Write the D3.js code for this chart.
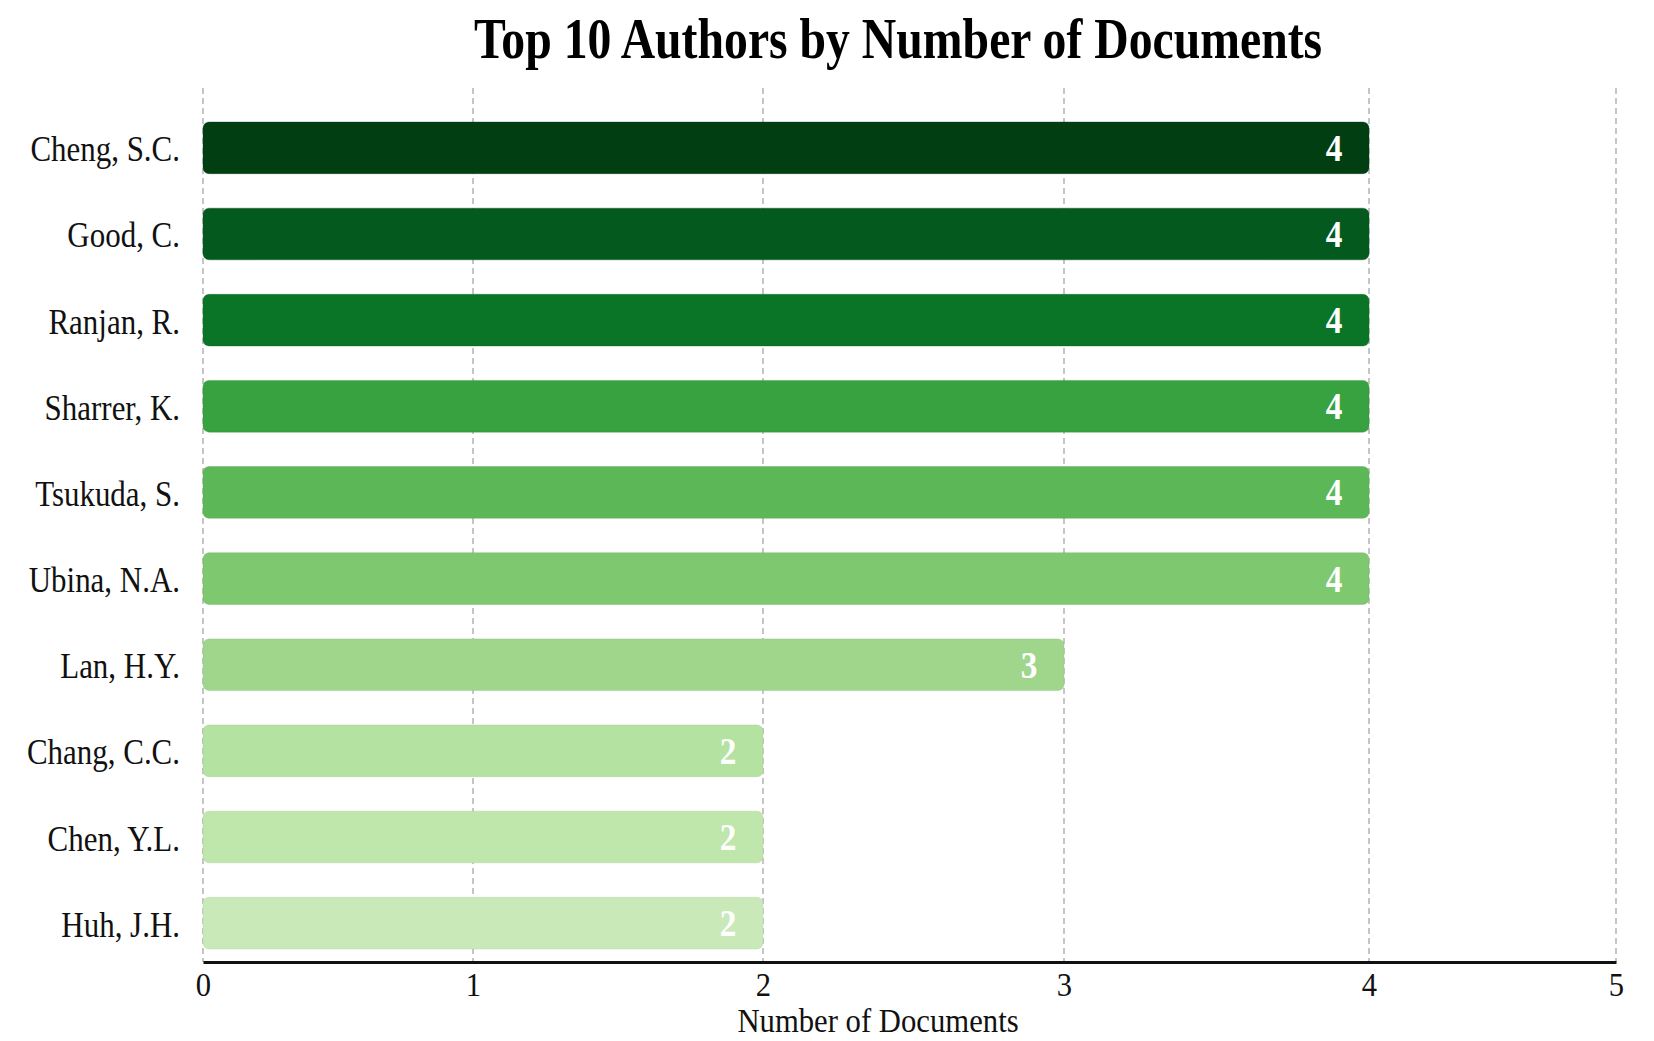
<!DOCTYPE html>
<html>
<head>
<meta charset="utf-8">
<script src="https://cdn.jsdelivr.net/npm/d3@7"></script>
<style>
  html, body { margin: 0; padding: 0; background: #fff; }
  svg { display: block; }
  text { font-family: "Liberation Serif", "Times New Roman", Times, serif; }
</style>
</head>
<body>
<div id="chart"></div>
<script>
// Top 10 authors
const authors = ['Cheng, S.C.', 'Good, C.', 'Ranjan, R.', 'Sharrer, K.', 'Tsukuda, S.',
  'Ubina, N.A.', 'Lan, H.Y.', 'Chang, C.C.', 'Chen, Y.L.', 'Huh, J.H.'];
const documents = [4, 4, 4, 4, 4, 4, 3, 2, 2, 2];
const barColors = ['#013f13', '#045a1e', '#0b7527', '#38a140', '#5cb856',
  '#7ec86f', '#9fd68b', '#b4e2a0', '#bfe6ab', '#c9eab8'];
const xTicks = [0, 1, 2, 3, 4, 5];

const width = 1654;
const height = 1041;
const axisY = 962;
const gridTop = 88;
const fontStretch = 0.86; // reference type is a little narrow

const svg = d3.select('#chart')
  .append('svg')
  .attr('width', width)
  .attr('height', height);

// the reference axis is not evenly spaced, so map each tick to where it sits
const x = d3.scaleLinear()
  .domain(xTicks)
  .range([203, 473, 763, 1064, 1369, 1616]);

const y = d3.scaleBand()
  .domain(authors)
  .range([122, 949])
  .paddingInner(0.4)
  .paddingOuter(0);

const rows = authors.map((name, i) => ({ name, value: documents[i], color: barColors[i] }));

// helper: narrow text drawn at (tx, ty)
function narrowText(parent, tx, ty, sx) {
  return parent.append('g')
    .attr('transform', `translate(${tx},${ty}) scale(${sx},1)`)
    .append('text');
}

// dashed vertical grid
svg.append('g')
  .selectAll('line')
  .data(xTicks)
  .enter()
  .append('line')
  .attr('x1', d => x(d))
  .attr('x2', d => x(d))
  .attr('y1', gridTop)
  .attr('y2', axisY)
  .attr('stroke', '#b3b3b3')
  .attr('stroke-width', 1.5)
  .attr('stroke-dasharray', '6,4');

// bars
svg.append('g')
  .selectAll('rect')
  .data(rows)
  .enter()
  .append('rect')
  .attr('x', x(0))
  .attr('y', d => y(d.name))
  .attr('width', d => x(d.value) - x(0))
  .attr('height', y.bandwidth())
  .attr('rx', 6)
  .attr('ry', 6)
  .attr('fill', d => d.color)
  .attr('stroke', d => d3.color(d.color).darker(0.4))
  .attr('stroke-opacity', 0.35)
  .attr('stroke-width', 1);

// value labels inside bar ends
const valueG = svg.append('g');
rows.forEach(d => {
  narrowText(valueG, x(d.value) - 35, y(d.name) + y.bandwidth() / 2 + 13, 0.9)
    .attr('text-anchor', 'middle')
    .attr('font-size', 37)
    .attr('font-weight', 'bold')
    .attr('fill', '#fff')
    .text(d.value);
});

// author labels
const labelG = svg.append('g');
rows.forEach(d => {
  narrowText(labelG, 180, y(d.name) + y.bandwidth() / 2 + 13.5, fontStretch)
    .attr('text-anchor', 'end')
    .attr('font-size', 36)
    .attr('fill', '#111')
    .text(d.name);
});

// x axis
const xAxis = d3.axisBottom(x)
  .tickValues(xTicks)
  .tickFormat(d3.format('d'))
  .tickSize(0)
  .tickSizeOuter(0);

const axisG = svg.append('g')
  .attr('transform', `translate(0,${axisY})`)
  .call(xAxis);

axisG.select('.domain')
  .attr('stroke', '#111')
  .attr('stroke-width', 3);

axisG.selectAll('.tick text')
  .attr('y', 34)
  .attr('dy', 0)
  .attr('font-size', 34)
  .attr('font-family', '"Liberation Serif", "Times New Roman", serif')
  .attr('fill', '#111')
  .attr('transform', 'scale(0.9,1)');

// axis title
narrowText(svg, 878, 1032, 0.93)
  .attr('text-anchor', 'middle')
  .attr('font-size', 33)
  .attr('fill', '#111')
  .text('Number of Documents');

// chart title
narrowText(svg, 898, 58, 0.852)
  .attr('text-anchor', 'middle')
  .attr('font-size', 56)
  .attr('font-weight', 'bold')
  .attr('fill', '#000')
  .text('Top 10 Authors by Number of Documents');
</script>
</body>
</html>
